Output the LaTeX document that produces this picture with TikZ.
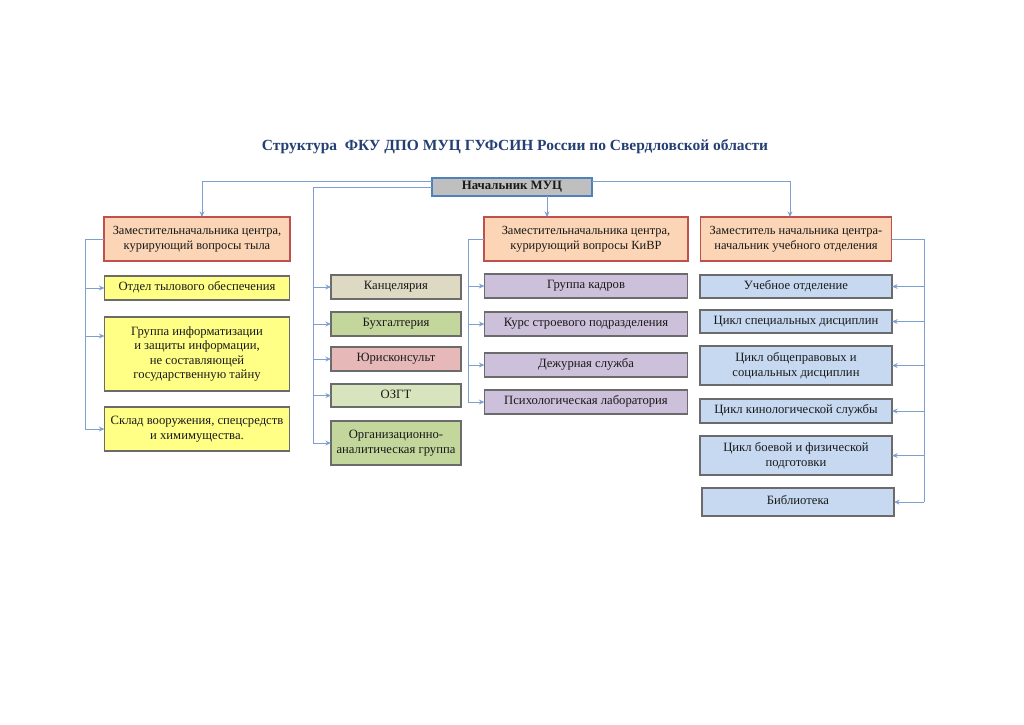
\documentclass[tikz,border=0pt]{standalone}
\usepackage{fontspec}
\setmainfont{Liberation Serif}
\usetikzlibrary{arrows.meta,positioning}

\definecolor{titleblue}{HTML}{243F73}
\definecolor{busblue}{HTML}{7F9FCF}
\definecolor{bossline}{HTML}{4F81BD}
\definecolor{bossfill}{HTML}{BFBFBF}
\definecolor{depline}{HTML}{C0504D}
\definecolor{depfill}{HTML}{FBD5B5}
\definecolor{cellline}{HTML}{6B6B6B}
\definecolor{rearfill}{HTML}{FFFF85}
\definecolor{officefill}{HTML}{DDD9C3}
\definecolor{accfill}{HTML}{C3D69B}
\definecolor{lawfill}{HTML}{E6B9B8}
\definecolor{secfill}{HTML}{D7E4BD}
\definecolor{staffill}{HTML}{CCC0DA}
\definecolor{studyfill}{HTML}{C6D9F1}

\begin{document}
\begin{tikzpicture}[
  x=0.025cm, y=-0.025cm,
  font=\fontsize{9}{10.3}\selectfont,
  cell/.style={
    draw=cellline,
    line width=0.9pt,
    inner sep=1pt,
    outer sep=0pt,
    minimum height=0.6cm,
    text height=5.6pt,
    text depth=1.6pt,
    text=black!90
  },
  multi/.style={text height=, text depth=, align=center},
  depbox/.style={
    cell,
    multi,
    draw=depline,
    line width=1.3pt,
    fill=depfill,
    minimum height=1.1cm,
    font=\fontsize{8.85}{10.3}\selectfont
  },
  rearbox/.style={cell, fill=rearfill, minimum width=4.625cm},
  midbox/.style={cell, minimum width=3.25cm},
  staffbox/.style={cell, fill=staffill, minimum width=5.075cm},
  studybox/.style={cell, fill=studyfill, minimum width=4.8cm},
  bus/.style={draw=busblue, line width=0.7pt},
  arr/.style={bus, -{Stealth[length=4pt,width=3.5pt]}}
]
\useasboundingbox (0,0) rectangle (1024,724);

\node[font=\fontsize{11}{13}\selectfont\bfseries, text=titleblue] (title) at (515,147)
  {Структура\ \ ФКУ ДПО МУЦ ГУФСИН России по Свердловской области};

\node[cell, draw=bossline, line width=1.5pt, fill=bossfill, minimum width=4cm,
  minimum height=0.45cm, font=\fontsize{9.1}{10.3}\selectfont\bfseries] (boss) at (512,187) {Начальник МУЦ};

\node[depbox, minimum width=4.65cm] (ldep) at (197,239)
  {Заместительначальника центра,\\ курирующий вопросы тыла};
\node[depbox, minimum width=5.1cm] (kdep) at (586,239)
  {Заместительначальника центра,\\ курирующий вопросы КиВР};
\node[depbox, minimum width=4.775cm] (rdep) at (796,239)
  {Заместитель начальника центра-\\начальник учебного отделения};

% left column
\node[rearbox, below=0.375cm of ldep] (rear) {Отдел тылового обеспечения};
\node[rearbox, multi, minimum height=1.85cm, below=0.425cm of rear] (infosec)
  {Группа информатизации\\ и защиты информации,\\ не составляющей\\ государственную тайну};
\node[rearbox, multi, minimum height=1.1cm, below=0.4cm of infosec] (store)
  {Склад вооружения, спецсредств\\ и химимущества.};

% middle column
\node[midbox, fill=officefill] (office) at (396,287) {Канцелярия};
\node[midbox, fill=accfill, below=0.325cm of office] (acc) {Бухгалтерия};
\node[midbox, fill=lawfill, below=0.275cm of acc] (law) {Юрисконсульт};
\node[midbox, fill=secfill, minimum height=0.575cm, below=0.325cm of law] (ozgt) {ОЗГТ};
\node[midbox, multi, fill=accfill, minimum height=1.1cm, below=0.35cm of ozgt] (org)
  {Организационно-\\аналитическая группа};

% KiVR column
\node[staffbox, below=0.325cm of kdep] (hr) {Группа кадров};
\node[staffbox, below=0.35cm of hr] (course) {Курс строевого подразделения};
\node[staffbox, below=0.425cm of course] (duty) {Дежурная служба};
\node[staffbox, below=0.325cm of duty] (psy) {Психологическая лаборатория};

% study column
\node[studybox, minimum height=0.575cm, below=0.35cm of rdep] (study) {Учебное отделение};
\node[studybox, minimum height=0.575cm, below=0.3cm of study] (spec) {Цикл специальных дисциплин};
\node[studybox, multi, minimum height=0.975cm, below=0.325cm of spec] (law2)
  {Цикл общеправовых и\\ социальных дисциплин};
\node[studybox, below=0.35cm of law2] (dog) {Цикл кинологической службы};
\node[studybox, multi, minimum height=0.975cm, below=0.325cm of dog] (phys)
  {Цикл боевой и физической\\ подготовки};
\node[studybox, minimum height=0.7cm, below=0.325cm of phys, xshift=0.05cm] (lib) {Библиотека};

\coordinate (lbus) at (85,0);
\coordinate (mbus) at (313,0);
\coordinate (kbus) at (468,0);
\coordinate (rbus) at (924,0);
\coordinate (infoin) at ([yshift=0.45cm]infosec.west);

% from the head
\draw[arr] ([yshift=0.15cm]boss.west) -| ([xshift=0.125cm]ldep.north);
\draw[arr] ([yshift=0.15cm]boss.east) -| ([xshift=-0.15cm]rdep.north);
\draw[arr] ([xshift=0.875cm]boss.south) -- ([xshift=0.875cm]boss.south |- kdep.north);
\draw[bus] (boss.west) -| (mbus |- org.west);

\draw[bus] (ldep.west) -| (lbus |- store.west);
\foreach \n in {rear, store}
  \draw[arr] (lbus |- \n.west) -- (\n.west);
\draw[arr] (lbus |- infoin) -- (infoin);

\foreach \n in {office, acc, law, ozgt, org}
  \draw[arr] (mbus |- \n.west) -- (\n.west);

\draw[bus] (kdep.west) -| (kbus |- psy.west);
\foreach \n in {hr, course, duty, psy}
  \draw[arr] (kbus |- \n.west) -- (\n.west);

\draw[bus] (rdep.east) -| (rbus |- lib.east);
\foreach \n in {study, spec, law2, dog, phys, lib}
  \draw[arr] (rbus |- \n.east) -- (\n.east);

\end{tikzpicture}
\end{document}
